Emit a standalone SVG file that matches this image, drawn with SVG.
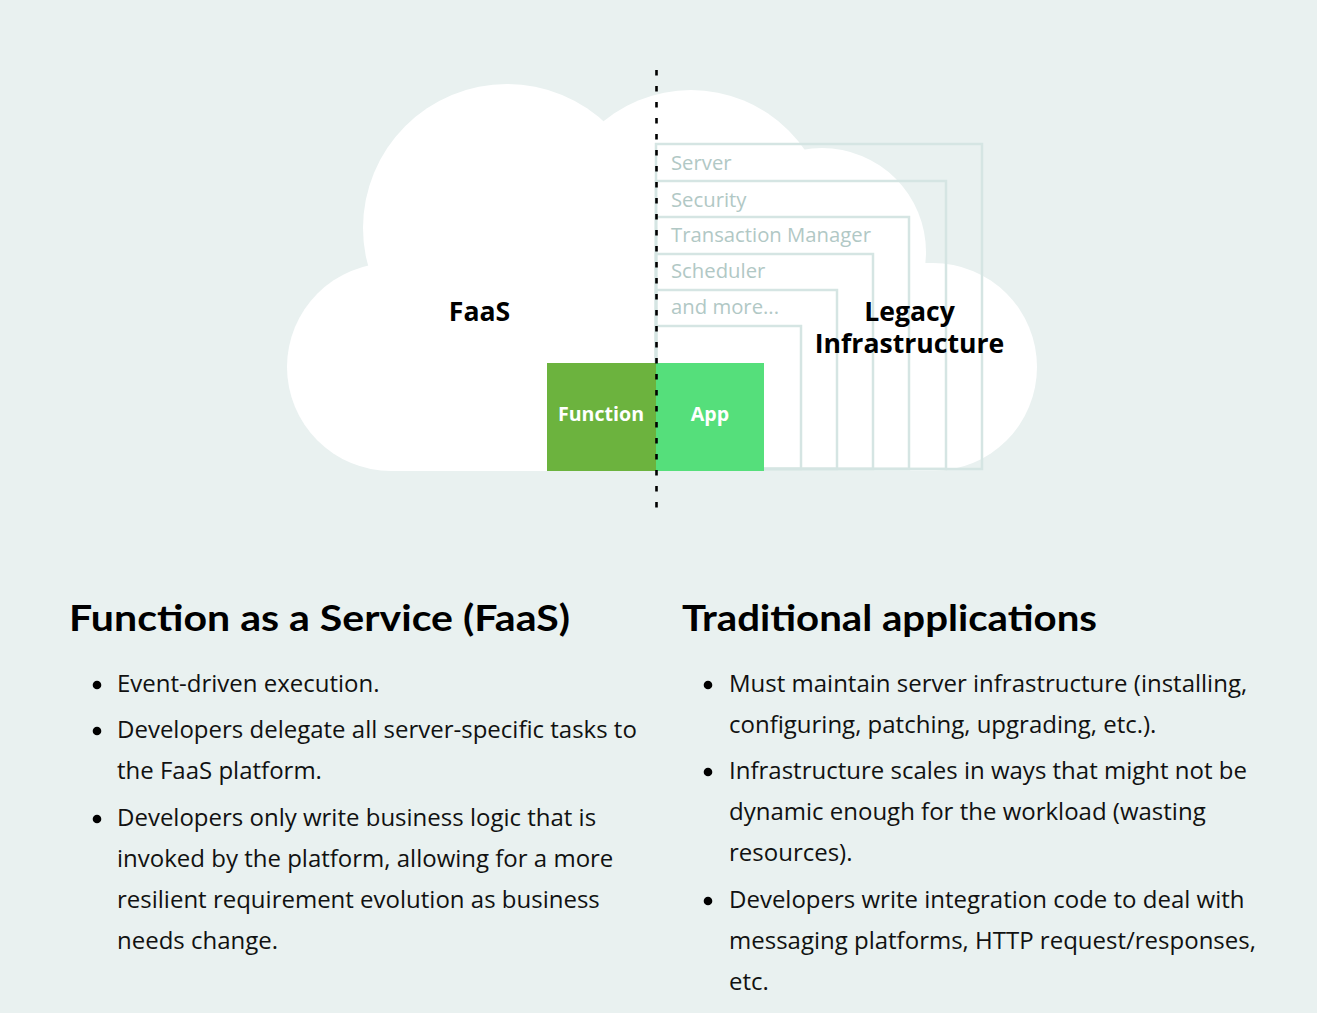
<svg xmlns="http://www.w3.org/2000/svg" width="1317" height="1013" viewBox="0 0 1317 1013">
  <style>
    .cloud { fill: #ffffff; }
    .layer { fill: none; stroke: #d5e5e3; stroke-width: 2.5; }
    .layer-label { font-family: "Open Sans", "Noto Sans", sans-serif; font-size: 20.3px; fill: #b1c8c5; }
    .big-label { font-family: "Open Sans", "Noto Sans", sans-serif; font-size: 26.6px; font-weight: 700; fill: #000000; text-anchor: middle; }
    .box-label { font-family: "Open Sans", "Noto Sans", sans-serif; font-size: 19.6px; font-weight: 700; fill: #ffffff; text-anchor: middle; }
    .divider { stroke: #000000; stroke-width: 2.6; stroke-dasharray: 5.5 10.5; fill: none; }
    .heading { font-family: "Lato", "Noto Sans", sans-serif; font-size: 36px; font-weight: 700; fill: #000000; }
    .body { font-family: "Open Sans", "Noto Sans", sans-serif; font-size: 24px; fill: #111111; }
    .dot { fill: #000000; }
  </style>
  <rect x="0" y="0" width="1317" height="1013" fill="#e9f1f0"/>

  <g id="cloud">
    <circle class="cloud" cx="507" cy="228" r="144"/>
    <circle class="cloud" cx="691" cy="228" r="138"/>
    <circle class="cloud" cx="822" cy="252" r="104"/>
    <circle class="cloud" cx="391" cy="367" r="104"/>
    <circle class="cloud" cx="933" cy="367" r="104"/>
    <rect class="cloud" x="391" y="263" width="542" height="208"/>
  </g>

  <g id="legacy-layers">
    <rect class="layer" x="656" y="144" width="326" height="325"/>
    <rect class="layer" x="656" y="181" width="290" height="288"/>
    <rect class="layer" x="656" y="217" width="253" height="252"/>
    <rect class="layer" x="656" y="254" width="217" height="215"/>
    <rect class="layer" x="656" y="290" width="181" height="179"/>
    <rect class="layer" x="656" y="326" width="145" height="143"/>
    <text class="layer-label" x="671" y="170">Server</text>
    <text class="layer-label" x="671" y="207">Security</text>
    <text class="layer-label" x="671" y="242">Transaction Manager</text>
    <text class="layer-label" x="671" y="278">Scheduler</text>
    <text class="layer-label" x="671" y="314">and more...</text>
  </g>

  <g id="faas-label">
    <text class="big-label" x="479.5" y="321">FaaS</text>
  </g>
  <g id="legacy-label">
    <text class="big-label"><tspan x="909.5" y="321">Legacy</tspan><tspan x="909.5" y="353">Infrastructure</tspan></text>
  </g>

  <g id="function-box">
    <rect x="547" y="363" width="109" height="108" fill="#6cb33e"/>
    <text class="box-label" x="601" y="421">Function</text>
  </g>
  <g id="app-box">
    <rect x="656" y="363" width="108" height="108" fill="#55df7b"/>
    <text class="box-label" x="710" y="421">App</text>
  </g>

  <g id="connectors">
    <line class="divider" x1="656.5" y1="70" x2="656.5" y2="508"/>
  </g>

  <g id="faas-column">
    <text class="heading" x="69" y="631" textLength="501" lengthAdjust="spacingAndGlyphs">Function as a Service (FaaS)</text>
    <circle class="dot" cx="97" cy="685" r="4.3"/>
    <text class="body" x="117" y="692">Event-driven execution.</text>
    <circle class="dot" cx="97" cy="731" r="4.3"/>
    <text class="body" x="117" y="738">Developers delegate all server-specific tasks to</text>
    <text class="body" x="117" y="779">the FaaS platform.</text>
    <circle class="dot" cx="97" cy="819" r="4.3"/>
    <text class="body" x="117" y="826">Developers only write business logic that is</text>
    <text class="body" x="117" y="867">invoked by the platform, allowing for a more</text>
    <text class="body" x="117" y="908">resilient requirement evolution as business</text>
    <text class="body" x="117" y="949">needs change.</text>
  </g>

  <g id="traditional-column">
    <text class="heading" x="682" y="631" textLength="415" lengthAdjust="spacingAndGlyphs">Traditional applications</text>
    <circle class="dot" cx="708" cy="685" r="4.3"/>
    <text class="body" x="729" y="692">Must maintain server infrastructure (installing,</text>
    <text class="body" x="729" y="733">configuring, patching, upgrading, etc.).</text>
    <circle class="dot" cx="708" cy="772" r="4.3"/>
    <text class="body" x="729" y="779">Infrastructure scales in ways that might not be</text>
    <text class="body" x="729" y="820">dynamic enough for the workload (wasting</text>
    <text class="body" x="729" y="861">resources).</text>
    <circle class="dot" cx="708" cy="901" r="4.3"/>
    <text class="body" x="729" y="908">Developers write integration code to deal with</text>
    <text class="body" x="729" y="949">messaging platforms, HTTP request/responses,</text>
    <text class="body" x="729" y="990">etc.</text>
  </g>
</svg>
